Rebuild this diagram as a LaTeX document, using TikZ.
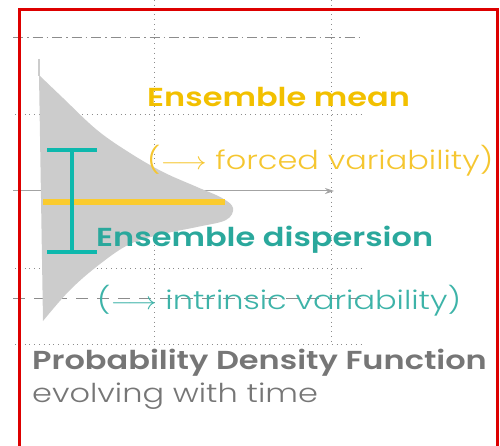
\documentclass[tikz,border=0pt]{standalone}
\usepackage{fontspec}
\setmainfont{Poppins}
\newfontfamily\popbold{Poppins SemiBold}[FakeStretch=1.23]
\newfontfamily\poplight{Poppins Light}[FakeStretch=1.23]
\usetikzlibrary{arrows.meta}
\definecolor{meanyellow}{HTML}{F2C000}
\definecolor{lightyellow}{HTML}{F5C630}
\definecolor{baryellow}{HTML}{FACB2E}
\definecolor{dispteal}{HTML}{2AA89C}
\definecolor{lightteal}{HTML}{3DB3A8}
\definecolor{barteal}{HTML}{0DB8AD}
\definecolor{pdfgray}{HTML}{CCCCCC}
\definecolor{textgray}{HTML}{767676}
\definecolor{gridgray}{HTML}{8C8C8C}
\definecolor{framered}{HTML}{DD0000}
\tikzset{
    base/.style = {inner sep=0pt, anchor=base west},
    % Labels
    headline/.style = {base, font=\popbold\fontsize{26}{30}\selectfont},
    remark/.style   = {base, font=\poplight\fontsize{26}{30}\selectfont},
    % Grid and bars
    gridline/.style = {gridgray, line width=0.8pt},
    dotline/.style  = {gridline, dash pattern=on 0.8pt off 4pt},
    dashline/.style = {gridline, dash pattern=on 12pt off 9pt},
    dashdot/.style  = {gridline, dash pattern=on 10pt off 4pt on 1.5pt off 4pt},
    axis/.style     = {gridgray!80, line width=1pt, -{Stealth[length=9pt, width=6pt]}},
    meanbar/.style  = {baryellow, line width=5.5pt},
    errbar/.style   = {barteal, line width=4pt}
}
\newcommand{\longarr}{\scalebox{1.15}[1]{$\longrightarrow$}}

\begin{document}
\begin{tikzpicture}[x=1pt, y=-1pt]
    \useasboundingbox (0,0) rectangle (500,446);
    \clip (0,0) rectangle (500,446);

    % grid
    \draw [dashdot] (13,37) -- (363,37);
    \draw [dotline] (15,114) -- (363,114);
    \draw [dotline] (15,268) -- (363,268);
    \draw [dashline] (13,298) -- (362,298);
    \draw [dotline] (15,344) -- (363,344);
    \draw [dotline] (154,0) -- (154,344);
    \draw [dotline] (331,0) -- (331,344);
    \coordinate (axisstart) at (13,191);
    \coordinate (axisend) at (334,191);
    \draw [axis] (axisstart) -- (axisend);

    % probability density
    \draw [pdfgray, line width=2pt] (39,59) -- (39,76);
    \fill [pdfgray] plot[smooth, tension=0.6] coordinates {(39,75) (63,98) (97,130) (130,153) (163,172) (197,187) (222,198) (233,208) (226,220) (197,227) (163,234) (130,244) (100,264) (70,290) (43,321)} -- cycle;

    \coordinate (meanleft) at (43,202);
    \coordinate (meanright) at (225,202);
    \draw [meanbar] (meanleft) -- (meanright);

    \coordinate (sdtop) at (72,150);
    \coordinate (sdbottom) at (72,252);
    \draw [errbar] (sdtop) -- (sdbottom);
    \draw [errbar] ([xshift=-25pt]sdtop) -- ([xshift=25pt]sdtop);
    \draw [errbar] ([xshift=-25pt]sdbottom) -- ([xshift=25pt]sdbottom);

    % labels
    \node (mean) [headline, text=meanyellow] at (147,107) {Ensemble mean};
    \node (forced) [remark, text=lightyellow] at (147,170) {(\longarr{} forced variability)};
    \node (disp) [headline, text=dispteal] at (96,247) {Ensemble dispersion};
    \node (intrinsic) [remark, text=lightteal] at (97,309) {(\longarr{} intrinsic variability)};
    \node (pdf) [headline, text=textgray] at (32,369) {Probability Density Function};
    \node (evolve) [remark, text=textgray] at (32,402) {evolving with time};

    % frame
    \draw [framered, line width=3pt] (19.5,470) -- (19.5,9.5) -- (497.5,9.5) -- (497.5,470);
\end{tikzpicture}
\end{document}
